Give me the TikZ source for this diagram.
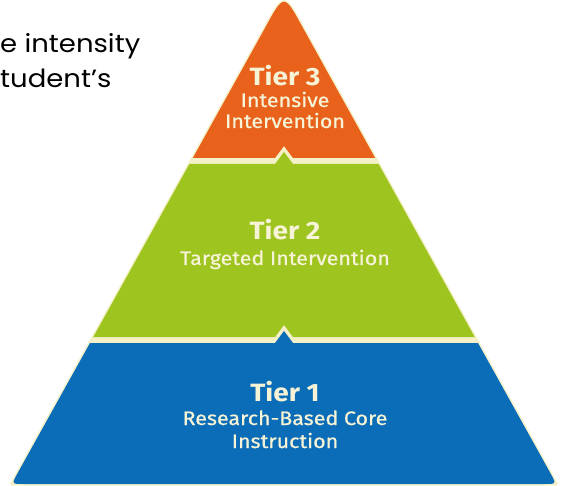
\documentclass[tikz,border=0pt]{standalone}
\usepackage{fontspec}
\setmainfont{Fira Sans}
\newfontfamily\subfont{Fira Sans}[FakeBold=0.7]
\newfontfamily\headfont{Poppins}
\definecolor{tierorange}{HTML}{E8621C}
\definecolor{tiergreen}{HTML}{9EC420}
\definecolor{tierblue}{HTML}{0B6CB7}
\definecolor{creamline}{HTML}{F4F1C8}
\definecolor{tiertext}{HTML}{F7F3D6}
\tikzset{
  tiertitle/.style={text=tiertext, font=\fontsize{25}{27}\selectfont\bfseries, inner sep=0pt, anchor=base, xscale=1.12},
  tiersub/.style={text=tiertext, font=\subfont\fontsize{19.5}{21}\selectfont, inner sep=0pt, anchor=base, xscale=1.1},
  headtext/.style={font=\headfont\fontsize{25}{28}\selectfont, text=black, inner sep=0pt, anchor=base west, xscale=1.1}
}
\begin{document}
\begin{tikzpicture}[x=1pt,y=-1pt]
\useasboundingbox (0,0) rectangle (562,486);
% cream base (shows in the gaps between tiers and as a thin rim)
\filldraw[creamline, line width=3pt, line join=round]
  (265,28) .. controls (284,-7) .. (303,28)
  -- (556.4,484) -- (11.6,484) -- cycle;
% Tier 3 (orange)
\fill[tierorange]
  (265,28) .. controls (284,-7) .. (303,28)
  -- (375.2,158) -- (293,158) -- (284,146) -- (275,158) -- (192.8,158) -- cycle;
% Tier 2 (green)
\fill[tiergreen]
  (189.4,164) -- (275,164) -- (284,152) -- (293,164) -- (378.6,164)
  -- (474.7,337) -- (293,337) -- (284,325) -- (275,337) -- (93.3,337) -- cycle;
% Tier 1 (blue)
\fill[tierblue]
  (90,343) -- (275,343) -- (284,331) -- (293,343) -- (478,343)
  -- (550.6,473.5) .. controls (556.4,484) .. (544.4,484)
  -- (23.6,484) .. controls (11.6,484) .. (17.4,473.5) -- cycle;
% labels
\node[tiertitle] (t3) at (285,86) {Tier 3};
\node[tiersub] (s3a) at (285,107) {Intensive};
\node[tiersub] (s3b) at (285,128) {Intervention};
\node[tiertitle] (t2) at (285,240) {Tier 2};
\node[tiersub] (s2) at (285,265) {Targeted Intervention};
\node[tiertitle] (t1) at (285,401) {Tier 1};
\node[tiersub] (s1a) at (285,425) {Research-Based Core};
\node[tiersub] (s1b) at (285,448) {Instruction};
% heading text at top left
\node[headtext] (h1) at (0,53) {e intensity};
\node[headtext] (h2) at (0,88) {tudent’s};
\end{tikzpicture}
\end{document}
